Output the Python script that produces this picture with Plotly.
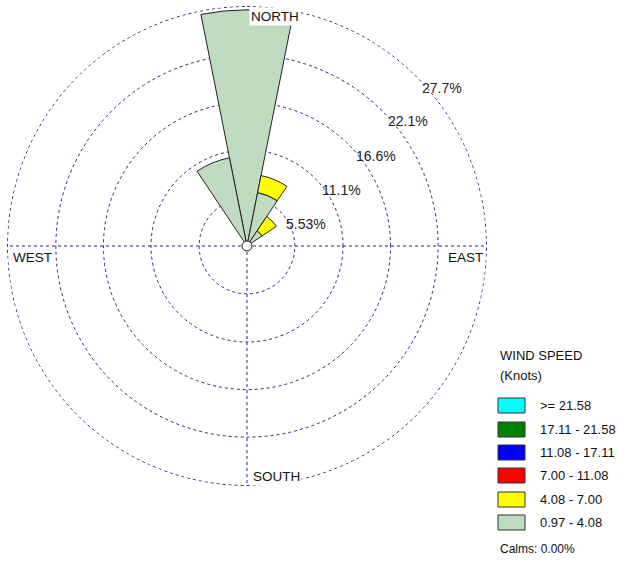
import plotly.graph_objects as go

W, H = 618, 561

directions = ["N", "NNE", "NE", "ENE", "E", "ESE", "SE", "SSE",
              "S", "SSW", "SW", "WSW", "W", "WNW", "NW", "NNW"]
dir_angles = [i * 22.5 for i in range(16)]

speed_bins = ["0.97 - 4.08", "4.08 - 7.00", "7.00 - 11.08",
              "11.08 - 17.11", "17.11 - 21.58", ">= 21.58"]
bin_colors = ["#C0DCC0", "#FFFF00", "#FF0000", "#0000FF", "#008000", "#00FFFF"]

# percent frequency per direction for each speed bin
freq_097_408 = [27.3, 6.3, 2.1, 0, 0, 0, 0, 0, 0, 0, 0, 0, 0, 0, 0, 10.4]
freq_408_700 = [0, 2.0, 2.0, 0, 0, 0, 0, 0, 0, 0, 0, 0, 0, 0, 0, 0]
freq_700_1108 = [0] * 16
freq_1108_1711 = [0] * 16
freq_1711_2158 = [0] * 16
freq_2158_up = [0] * 16
series = [freq_097_408, freq_408_700, freq_700_1108,
          freq_1108_1711, freq_1711_2158, freq_2158_up]

ring_values = [5.53, 11.1, 16.6, 22.1, 27.7]
ring_labels = ["5.53%", "11.1%", "16.6%", "22.1%", "27.7%"]
calms_text = "Calms: 0.00%"

grid_col = "#24248f"

fig = go.Figure()
# outermost dotted ring (the edge ring plotly does not draw as a gridline)
ring_theta = [i * 2 for i in range(181)]
fig.add_trace(go.Scatterpolar(
    r=[ring_values[-1]] * len(ring_theta), theta=ring_theta, mode="lines",
    line=dict(color=grid_col, width=1, dash="dot"),
    showlegend=False, hoverinfo="skip"))

for name, vals, col in zip(speed_bins, series, bin_colors):
    fig.add_trace(go.Barpolar(
        r=vals, theta=dir_angles, width=[22.5] * 16, name=name,
        marker=dict(color=col, line=dict(color="#222222", width=1)),
        showlegend=False, hoverinfo="skip"))

# center calm circle
fig.add_trace(go.Scatterpolar(
    r=[0], theta=[0], mode="markers",
    marker=dict(size=10, color="white", line=dict(color="#222222", width=1)),
    showlegend=False, hoverinfo="skip"))


def px(x, y):
    """window pixel -> paper coords"""
    return x / W, 1 - y / H


fig.update_layout(
    width=W, height=H,
    margin=dict(l=0, r=0, t=0, b=0),
    paper_bgcolor="white", plot_bgcolor="white",
    font=dict(family="Liberation Sans, Arial, sans-serif", size=13, color="#222222"),
    polar=dict(
        domain=dict(x=[7 / W, 487 / W], y=[1 - 486 / H, 1 - 6 / H]),
        bgcolor="white",
        barmode="stack", bargap=0,
        radialaxis=dict(range=[0, 27.75], tickvals=ring_values,
                        showticklabels=False, ticks="", showline=False,
                        gridcolor=grid_col, griddash="dot", gridwidth=1),
        angularaxis=dict(direction="clockwise", rotation=90,
                         tickvals=[0, 90, 180, 270], showticklabels=False,
                         ticks="", showline=False,
                         gridcolor=grid_col, griddash="dot", gridwidth=1),
    ),
)

# ring labels
ring_pos = [(306, 224), (341, 190), (376, 156), (408, 121), (442, 88)]
for lab, (x, y) in zip(ring_labels, ring_pos):
    ax, ay = px(x, y)
    fig.add_annotation(x=ax, y=ay, xref="paper", yref="paper", text=lab,
                       showarrow=False, xanchor="center", yanchor="middle",
                       font=dict(size=14, color="#222222"))

# compass labels
compass = [("NORTH", 275, 17, True), ("EAST", 465, 257, False),
           ("SOUTH", 276, 476, True), ("WEST", 32, 257, False)]
for t, x, y, bg in compass:
    ax, ay = px(x, y)
    fig.add_annotation(x=ax, y=ay, xref="paper", yref="paper", text=t,
                       showarrow=False, xanchor="center", yanchor="middle",
                       bgcolor="white" if bg else None, borderpad=1,
                       font=dict(size=13.5, color="#111111"))

# legend (manual)
for t, y in [("WIND SPEED", 356), ("(Knots)", 375)]:
    ax, ay = px(498, y)
    fig.add_annotation(x=ax, y=ay, xref="paper", yref="paper", text=t,
                       showarrow=False, xanchor="left", yanchor="middle",
                       font=dict(size=13, color="#111111"))

legend_order = list(range(len(speed_bins)))[::-1]
box_tops = [398, 422, 445, 468, 492, 515]
for k, idx in enumerate(legend_order):
    top = box_tops[k]
    x0, y0 = px(498, top)
    x1, y1 = px(525, top + 15)
    fig.add_shape(type="rect", xref="paper", yref="paper",
                  x0=x0, y0=y1, x1=x1, y1=y0,
                  fillcolor=bin_colors[idx], line=dict(color="#333333", width=1))
    tx, ty = px(538, top + 7.5)
    fig.add_annotation(x=tx, y=ty, xref="paper", yref="paper",
                       text=speed_bins[idx], showarrow=False,
                       xanchor="left", yanchor="middle",
                       font=dict(size=13, color="#111111"))

ax, ay = px(498, 549)
fig.add_annotation(x=ax, y=ay, xref="paper", yref="paper", text=calms_text,
                   showarrow=False, xanchor="left", yanchor="middle",
                   font=dict(size=12, color="#111111"))

fig.write_html(
    "out.html",
    config={"displayModeBar": False},
    post_script="document.body.style.margin='0';document.body.style.overflow='hidden';",
)
